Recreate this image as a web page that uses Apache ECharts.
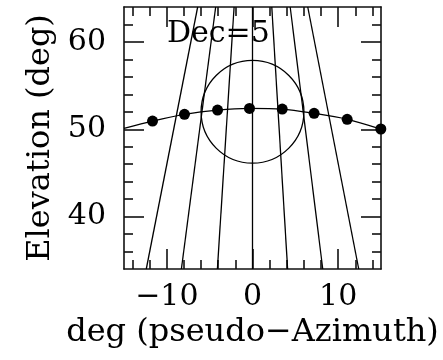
<!DOCTYPE html>
<html>
<head>
<meta charset="utf-8">
<script src="https://cdn.jsdelivr.net/npm/echarts@6/dist/echarts.min.js"></script>
<style>
  html, body { margin: 0; padding: 0; background: #fff; }
  #chart { width: 443px; height: 360px; }
</style>
</head>
<body>
<div id="chart"></div>
<script>
// tracked positions (pseudo-azimuth, elevation)
const dotAz = [-11.67, -7.94, -4.08, -0.35, 3.47, 7.19, 11.05, 14.98];
const dotEl = [50.94, 51.71, 52.20, 52.39, 52.31, 51.82, 51.14, 50.03];
const trackStart = [-15, 50.1];
// hour lines: x at el=64 and at el=34
const hourTopX = [-6.4, -4.3, -2.15, 0, 2.25, 4.4, 6.45];
const hourBotX = [-12.4, -8.3, -4.1, 0, 4.1, 8.2, 12.4];
const elTop = 64;
const elBot = 34;
const circleCenter = [0, 52];
const circleRadius = 6;
// ticks
const xMajor = [-10, 0, 10];
const xMinor = [-14, -12, -8, -6, -4, -2, 2, 4, 6, 8, 12, 14];
const yMajor = [40, 50, 60];
const yMinor = [36, 38, 42, 44, 46, 48, 52, 54, 56, 58, 62];

const font = 'DejaVu Serif';
const ink = '#000';
const minus = v => String(v).replace('-', '\u2212');

const mkX = (pos, ticks, len, withLine, withLabel) => ({
  type: 'value', position: pos, min: -15, max: 15,
  axisLine: { show: withLine, onZero: false, lineStyle: { color: '#111', width: 1.6 } },
  axisTick: { show: true, inside: true, length: len, customValues: ticks, lineStyle: { color: '#111', width: 1.6 } },
  axisLabel: withLabel ? { show: true, customValues: ticks, formatter: minus, fontFamily: font, fontSize: 30, color: ink, margin: 13 } : { show: false },
  splitLine: { show: false }
});
const mkY = (pos, ticks, len, withLine, withLabel) => ({
  type: 'value', position: pos, min: elBot, max: elTop,
  axisLine: { show: withLine, onZero: false, lineStyle: { color: '#111', width: 1.6 } },
  axisTick: { show: true, inside: true, length: len, customValues: ticks, lineStyle: { color: '#111', width: 1.6 } },
  axisLabel: withLabel ? { show: true, customValues: ticks, fontFamily: font, fontSize: 30, color: ink, margin: 18 } : { show: false },
  splitLine: { show: false }
});

const xAxes = [
  mkX('bottom', xMajor, 20, true, true),
  mkX('bottom', xMinor, 9, false, false),
  mkX('top', xMajor, 20, true, false),
  mkX('top', xMinor, 9, false, false)
];
Object.assign(xAxes[0], {
  name: 'deg (pseudo\u2212Azimuth)', nameLocation: 'middle', nameGap: 48,
  nameTextStyle: { fontFamily: font, fontSize: 32, color: ink }
});
const yAxes = [
  mkY('left', yMajor, 20, true, true),
  mkY('left', yMinor, 9, false, false),
  mkY('right', yMajor, 20, true, false),
  mkY('right', yMinor, 9, false, false)
];
Object.assign(yAxes[0], {
  name: 'Elevation (deg)', nameLocation: 'middle', nameGap: 67, nameRotate: 90,
  nameTextStyle: { fontFamily: font, fontSize: 32, color: ink }
});

const hourSeries = hourTopX.map((tx, i) => ({
  type: 'line', symbol: 'none', silent: true,
  data: [[tx, elTop], [hourBotX[i], elBot]],
  lineStyle: { color: ink, width: 1.3 }
}));

const myChart = echarts.init(document.getElementById('chart'), null, { renderer: 'canvas' });
myChart.setOption({
  animation: false,
  backgroundColor: '#fff',
  grid: { left: 124, right: 62, top: 7, bottom: 91, containLabel: false, outerBoundsMode: 'none' },
  xAxis: xAxes,
  yAxis: yAxes,
  graphic: [{
    type: 'text', left: 167, top: 19,
    style: { text: 'Dec=5', fontFamily: font, fontSize: 30, fill: ink }
  }],
  series: hourSeries.concat([
    {
      type: 'custom',
      data: [[circleCenter[0], circleCenter[1], circleRadius]],
      renderItem: (params, api) => {
        const c = api.coord([api.value(0), api.value(1)]);
        const r = api.size([api.value(2), 0])[0];
        return { type: 'circle', shape: { cx: c[0], cy: c[1], r: r }, style: { fill: 'none', stroke: ink, lineWidth: 1.3 } };
      }
    },
    {
      type: 'line', symbol: 'none', smooth: 0.3,
      data: [trackStart].concat(dotAz.map((x, i) => [x, dotEl[i]])),
      lineStyle: { color: ink, width: 1.3 }
    },
    {
      type: 'scatter', symbolSize: 11,
      data: dotAz.map((x, i) => [x, dotEl[i]]),
      itemStyle: { color: ink, opacity: 1 }
    }
  ])
});
</script>
</body>
</html>
